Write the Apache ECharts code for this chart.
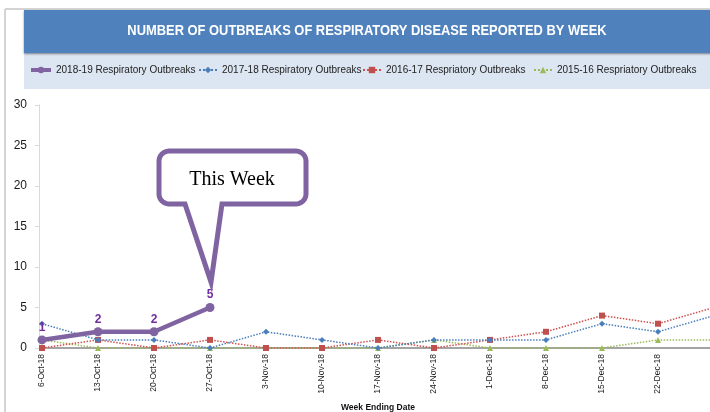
<!DOCTYPE html>
<html>
<head>
<meta charset="utf-8">
<script src="https://cdn.jsdelivr.net/npm/echarts@6/dist/echarts.min.js"></script>
<style>
html,body{margin:0;padding:0;background:#fff;}
#c{width:710px;height:412px;}
</style>
</head>
<body>
<div id="c"></div>
<script>
const categories = ['6-Oct-18','13-Oct-18','20-Oct-18','27-Oct-18','3-Nov-18','10-Nov-18','17-Nov-18','24-Nov-18','1-Dec-18','8-Dec-18','15-Dec-18','22-Dec-18','29-Dec-18'];
const outbreaks1819 = [1, 2, 2, 5];
const outbreaks1718 = [3, 1, 1, 0, 2, 1, 0, 1, 1, 1, 3, 2, 4];
const outbreaks1617 = [0, 1, 0, 1, 0, 0, 1, 0, 1, 2, 4, 3, 5];
const outbreaks1516 = [1, 0, 0, 0, 0, 0, 0, 1, 0, 0, 0, 1, 1];
const seriesNames = ['2018-19 Respiratory Outbreaks','2017-18 Respiratory Outbreaks','2016-17 Respriatory Outbreaks','2015-16 Respriatory Outbreaks'];
const titleText = 'NUMBER OF OUTBREAKS OF RESPIRATORY DISEASE REPORTED BY WEEK';
const axisTitle = 'Week Ending Date';
const calloutText = 'This Week';

const SANS = '"Liberation Sans", Arial, sans-serif';

const chart = echarts.init(document.getElementById('c'), null, {renderer: 'canvas'});

function legendAt(left, idx, iw, extra) {
  return Object.assign({
    data: [seriesNames[idx]],
    left: left, top: 60,
    itemWidth: iw, itemHeight: 8, itemGap: 0,
    textStyle: {fontFamily: SANS, fontSize: 10, color: '#222'},
    selectedMode: false
  }, extra || {});
}

// callout outline with rounded corners (annotation shape)
function calloutPoints() {
  const x0 = 159, y0 = 151, x1 = 306, y1 = 204, r = 10;
  const pts = [];
  function arc(cx, cy, a0, a1) {
    for (let k = 0; k <= 6; k++) {
      const a = a0 + (a1 - a0) * k / 6;
      pts.push([cx + r * Math.cos(a), cy + r * Math.sin(a)]);
    }
  }
  arc(x0 + r, y0 + r, Math.PI, Math.PI * 1.5);
  arc(x1 - r, y0 + r, Math.PI * 1.5, Math.PI * 2);
  arc(x1 - r, y1 - r, 0, Math.PI * 0.5);
  pts.push([222, y1], [211, 282], [185, y1]);
  arc(x0 + r, y1 - r, Math.PI * 0.5, Math.PI);
  return pts;
}

const option = {
  animation: false,
  backgroundColor: '#fff',
  grid: {left: 42, right: -4, top: 105, bottom: 64, containLabel: false, outerBoundsMode: 'none'},
  legend: [
    legendAt(24, 0, 20, {lineStyle: {width: 4}}),
    legendAt(193, 1, 18),
    legendAt(357, 2, 18),
    legendAt(528, 3, 18)
  ],
  xAxis: {
    type: 'category',
    data: categories,
    boundaryGap: false,
    name: axisTitle,
    nameLocation: 'middle',
    nameGap: 55,
    nameTextStyle: {fontFamily: SANS, fontSize: 8.5, fontWeight: 'bold', color: '#111'},
    axisLine: {lineStyle: {color: '#868686', width: 1.5}},
    axisTick: {show: false},
    axisLabel: {
      rotate: 90, fontFamily: SANS, fontSize: 8.5, color: '#1a1a1a', margin: 6,
      interval: function (i) { return i < 12; }
    },
    splitLine: {show: false}
  },
  yAxis: {
    type: 'value',
    min: 0, max: 30, interval: 5,
    offset: 3,
    axisLine: {show: true, lineStyle: {color: '#d9d9d9', width: 1}},
    axisTick: {show: true, length: 4, lineStyle: {color: '#d9d9d9'}},
    axisLabel: {fontFamily: SANS, fontSize: 12, color: '#1a1a1a', margin: 12},
    splitLine: {show: false}
  },
  series: [
    {
      name: seriesNames[0], type: 'line', data: outbreaks1819, z: 10,
      symbol: 'circle', symbolSize: 9, showAllSymbol: true,
      lineStyle: {color: '#8064a2', width: 4.5},
      itemStyle: {color: '#8064a2'},
      label: {show: true, position: 'top', distance: 2, fontFamily: SANS, fontSize: 12, fontWeight: 'bold', color: '#7030a0'}
    },
    {
      name: seriesNames[1], type: 'line', data: outbreaks1718, z: 5,
      symbol: 'diamond', symbolSize: 6, showAllSymbol: true,
      lineStyle: {color: '#4a7ebb', width: 1.5, type: 'dotted'},
      itemStyle: {color: '#4a7ebb'}
    },
    {
      name: seriesNames[2], type: 'line', data: outbreaks1617, z: 4,
      symbol: 'rect', symbolSize: 6, showAllSymbol: true,
      lineStyle: {color: '#d0504d', width: 1.5, type: 'dotted'},
      itemStyle: {color: '#c0504d'}
    },
    {
      name: seriesNames[3], type: 'line', data: outbreaks1516, z: 3,
      symbol: 'triangle', symbolSize: 6, showAllSymbol: true,
      lineStyle: {color: '#9bbb59', width: 1.5, type: 'dotted'},
      itemStyle: {color: '#9bbb59'}
    }
  ],
  graphic: [
    {type: 'line', z: 0, shape: {x1: 5, y1: 9, x2: 710, y2: 9}, style: {stroke: '#d4d4d4', lineWidth: 2}},
    {type: 'line', z: 0, shape: {x1: 5, y1: 9, x2: 5, y2: 412}, style: {stroke: '#d4d4d4', lineWidth: 2}},
    {type: 'rect', z: 0, shape: {x: 24, y: 53, width: 700, height: 36}, style: {fill: '#dce6f2'}},
    {type: 'rect', z: 1, shape: {x: 24, y: 10, width: 700, height: 43},
      style: {fill: '#4f81bd', shadowBlur: 2, shadowColor: 'rgba(0,0,0,0.45)', shadowOffsetY: 1}},
    {type: 'text', z: 2, x: 367, y: 31, scaleX: 0.86,
      style: {text: titleText, fill: '#fff', font: 'bold 15px ' + SANS, textAlign: 'center', textVerticalAlign: 'middle'}},
    {type: 'polygon', z: 100,
      shape: {points: calloutPoints()},
      style: {fill: '#fff', stroke: '#8064a2', lineWidth: 5, lineJoin: 'miter'}},
    {type: 'text', z: 101, x: 232, y: 180,
      style: {text: calloutText, fill: '#000', font: '20px "Liberation Serif", "Times New Roman", serif', textAlign: 'center', textVerticalAlign: 'middle'}}
  ]
};
chart.setOption(option);
</script>
</body>
</html>
